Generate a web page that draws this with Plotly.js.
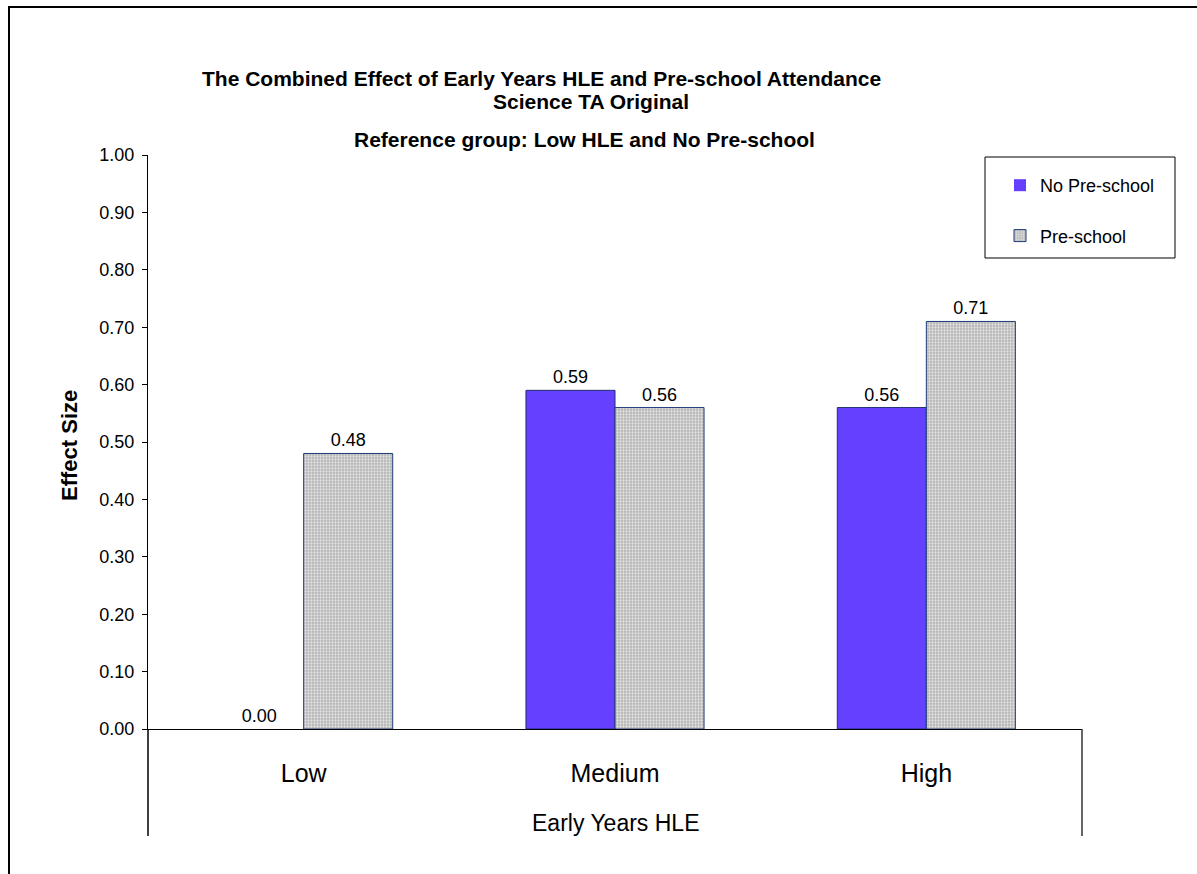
<!DOCTYPE html>
<html>
<head>
<meta charset="utf-8">
<script src="https://cdn.plot.ly/plotly-3.0.1.min.js"></script>
<style>
html,body{margin:0;padding:0;background:#fff;overflow:hidden;}
#chart{width:1197px;height:874px;}
</style>
</head>
<body>
<div id="chart"></div>
<script>
const categories = ['Low', 'Medium', 'High'];
const noPreschool = [0.00, 0.59, 0.56];
const preschool = [0.48, 0.56, 0.71];
const seriesNames = ['No Pre-school', 'Pre-school'];
const yTicks = [0, 0.1, 0.2, 0.3, 0.4, 0.5, 0.6, 0.7, 0.8, 0.9, 1.0];

const FONT = 'Liberation Sans, Arial, sans-serif';
const W = 1197, H = 874;
const L = 148, R = 1082, T = 155, B = 729;
const pw = R - L, ph = B - T;
const px = x => (x - L) / pw;
const py = y => (B - y) / ph;

const traces = [
  {
    type: 'bar', name: seriesNames[0], x: categories, y: noPreschool,
    marker: {color: '#6640FF', line: {color: '#1F2F6E', width: noPreschool.map(v => v === 0 ? 0 : 1)}},
    texttemplate: '%{y:.2f}', textposition: 'outside',
    textfont: {family: FONT, size: 18, color: '#000'},
    cliponaxis: false, legendgroup: 'a', hoverinfo: 'x+y'
  },
  {
    type: 'bar', name: seriesNames[1], x: categories, y: preschool,
    marker: {color: '#C4C4C4', line: {color: '#1F3A7A', width: 1},
      pattern: {shape: '.', size: 3, solidity: 0.45, fgcolor: '#E2E2E2', bgcolor: '#B4B4B4', fillmode: 'replace'}},
    texttemplate: '%{y:.2f}', textposition: 'outside',
    textfont: {family: FONT, size: 18, color: '#000'},
    cliponaxis: false, legendgroup: 'b', hoverinfo: 'x+y'
  }
];

const layout = {
  width: W, height: H,
  margin: {l: L, r: W - R, t: T, b: H - B, pad: 0},
  paper_bgcolor: '#fff', plot_bgcolor: '#fff',
  font: {family: FONT, size: 17, color: '#000'},
  barmode: 'group', bargap: 0.428, bargroupgap: 0,
  showlegend: true,
  legend: {
    x: px(1000), y: py(167), xanchor: 'left', yanchor: 'top',
    bgcolor: 'rgba(0,0,0,0)', borderwidth: 0,
    font: {family: FONT, size: 18, color: '#000'},
    tracegroupgap: 24, itemwidth: 30, traceorder: 'grouped'
  },
  xaxis: {
    type: 'category', showgrid: false, zeroline: false,
    showline: true, linecolor: '#000', linewidth: 1,
    ticks: '', tickfont: {family: FONT, size: 25, color: '#000'},
    ticklabelstandoff: 22, fixedrange: true
  },
  yaxis: {
    range: [0, 1], tickvals: yTicks, tickformat: '.2f',
    showgrid: false, zeroline: false,
    showline: true, linecolor: '#000', linewidth: 1,
    ticks: 'outside', ticklen: 5, tickcolor: '#000',
    tickfont: {family: FONT, size: 18, color: '#000'},
    ticklabelstandoff: 4, fixedrange: true
  },
  shapes: [
    {type: 'rect', xref: 'paper', yref: 'paper', x0: px(9), x1: px(1260), y0: py(940), y1: py(7),
     line: {color: '#000', width: 2}, fillcolor: 'rgba(0,0,0,0)', layer: 'below'},
    {type: 'line', xref: 'paper', yref: 'paper', x0: 0, x1: 0, y0: py(836), y1: 0,
     line: {color: '#000', width: 1.5}},
    {type: 'line', xref: 'paper', yref: 'paper', x0: 1, x1: 1, y0: py(836), y1: 0,
     line: {color: '#333', width: 1.5}},
    {type: 'rect', xref: 'paper', yref: 'paper', x0: px(985), x1: px(1175), y0: py(258), y1: py(157),
     line: {color: '#000', width: 1}, fillcolor: 'rgba(0,0,0,0)'}
  ],
  annotations: [
    {text: '<b>The Combined Effect of Early Years HLE and Pre-school Attendance</b>', xref: 'paper', yref: 'paper',
     x: px(541), y: py(79), xanchor: 'center', yanchor: 'middle', showarrow: false,
     font: {family: FONT, size: 21, color: '#000'}},
    {text: '<b>Science TA Original</b>', xref: 'paper', yref: 'paper',
     x: px(591), y: py(101), xanchor: 'center', yanchor: 'middle', showarrow: false,
     font: {family: FONT, size: 21, color: '#000'}},
    {text: '<b>Reference group: Low HLE and No Pre-school</b>', xref: 'paper', yref: 'paper',
     x: px(584), y: py(139), xanchor: 'center', yanchor: 'middle', showarrow: false,
     font: {family: FONT, size: 21, color: '#000'}},
    {text: '<b>Effect Size</b>', xref: 'paper', yref: 'paper', textangle: -90,
     x: px(70), y: py(446), xanchor: 'center', yanchor: 'middle', showarrow: false,
     font: {family: FONT, size: 22, color: '#000'}},
    {text: 'Early Years HLE', xref: 'paper', yref: 'paper',
     x: px(615), y: py(823), xanchor: 'center', yanchor: 'middle', showarrow: false,
     font: {family: FONT, size: 23, color: '#000'}}
  ]
};

Plotly.newPlot('chart', traces, layout, {displayModeBar: false, staticPlot: true});
</script>
</body>
</html>
